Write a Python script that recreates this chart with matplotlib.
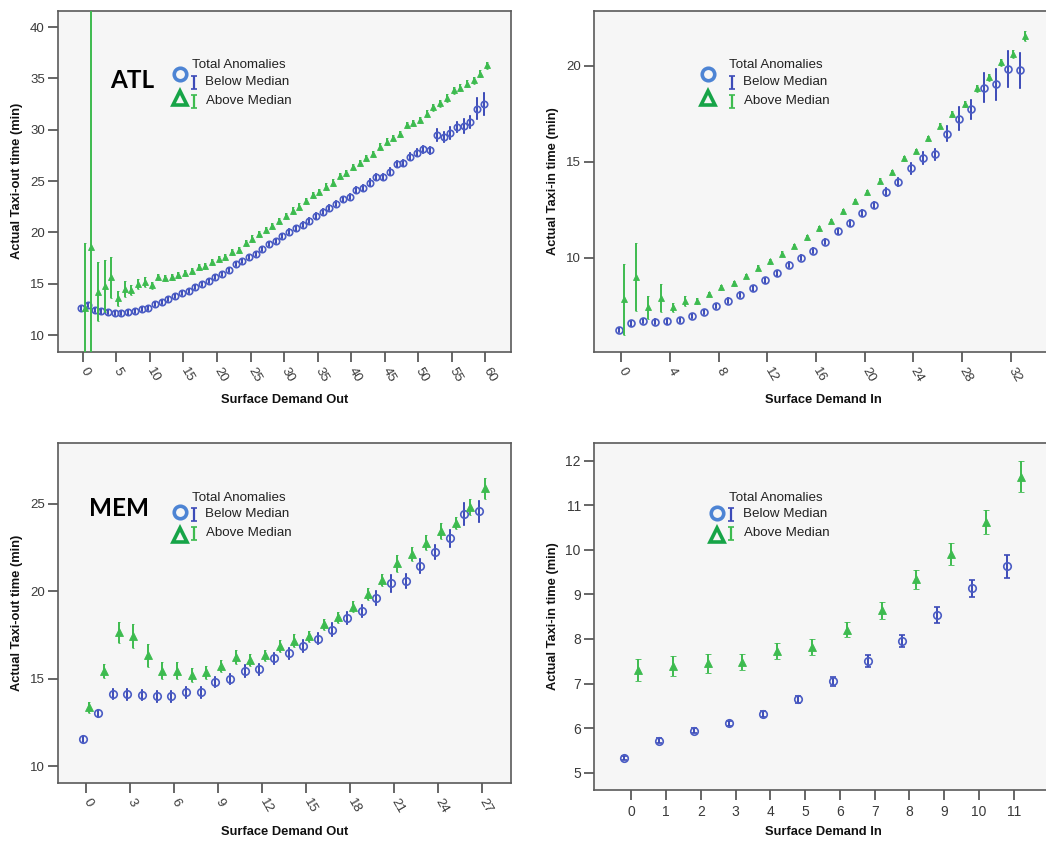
import numpy as np
import matplotlib
matplotlib.use("Agg")
import matplotlib.pyplot as plt

# ---------------- data ----------------
# ATL taxi-out vs surface demand out
atl_out_x = list(range(0, 61))
atl_out_below = [12.64, 12.9, 12.44, 12.3, 12.25, 12.15, 12.15, 12.2, 12.35, 12.57,
                 12.67, 13.0, 13.2, 13.55, 13.8, 14.07, 14.33, 14.65, 14.95, 15.27,
                 15.63, 15.98, 16.34, 16.93, 17.2, 17.64, 17.9, 18.42, 18.84, 19.2,
                 19.62, 20.05, 20.4, 20.76, 21.12, 21.6, 22.03, 22.39, 22.8, 23.23,
                 23.46, 24.1, 24.33, 24.86, 25.37, 25.4, 25.93, 26.64, 26.74, 27.39,
                 27.75, 28.1, 28.0, 29.47, 29.27, 29.67, 30.25, 30.38, 30.77, 32.07,
                 32.52]
atl_out_below_err = [0.2] * 11 + [0.2] * 20 + [0.25] * 10 + [0.3] * 8 + [0.35] * 4 + \
                    [0.6, 0.5, 0.6, 0.5, 0.7, 0.6, 1.0, 1.1]
atl_out_above = [12.64, 18.58, 14.23, 14.78, 15.63, 13.58, 14.46, 14.4, 14.97, 15.17,
                 14.84, 15.63, 15.56, 15.63, 15.82, 16.08, 16.28, 16.6, 16.73, 17.12,
                 17.38, 17.58, 18.13, 18.29, 18.97, 19.4, 19.82, 20.2, 20.63, 21.15,
                 21.6, 22.13, 22.52, 23.1, 23.62, 23.91, 24.47, 24.86, 25.5, 25.8,
                 26.35, 26.74, 27.23, 27.65, 28.37, 28.85, 29.2, 29.6, 30.45, 30.64,
                 30.97, 31.55, 32.17, 32.56, 33.1, 33.86, 34.08, 34.48, 34.8, 35.45,
                 36.3]
atl_out_above_err = [6.3, 30.0, 2.85, 2.5, 2.0, 0.7, 0.8, 0.5, 0.5, 0.5,
                     0.35] + [0.3] * 40 + [0.35] * 10

# ATL taxi-in vs surface demand in
atl_in_x = list(range(0, 34))
atl_in_below = [6.23, 6.58, 6.7, 6.67, 6.68, 6.75, 6.96, 7.17, 7.48, 7.76,
                8.06, 8.4, 8.82, 9.2, 9.62, 10.0, 10.35, 10.83, 11.37, 11.82,
                12.34, 12.73, 13.42, 13.94, 14.65, 15.19, 15.38, 16.46, 17.24, 17.73,
                18.85, 19.03, 19.83, 19.76]
atl_in_below_err = [0.12] * 10 + [0.13] * 8 + [0.15] * 4 + [0.2, 0.22] + \
                   [0.3, 0.3, 0.3, 0.4, 0.6, 0.5, 0.75, 0.8, 0.95, 0.9]
atl_in_above = [7.83, 9.01, 7.41, 7.88, 7.41, 7.74, 7.76, 8.1, 8.45, 8.66,
                9.04, 9.48, 9.81, 10.21, 10.61, 11.06, 11.53, 11.91, 12.41, 12.93,
                13.4, 14.01, 14.44, 15.17, 15.56, 16.22, 16.88, 17.47, 18.02, 18.82,
                19.39, 20.17, 20.61, 21.53]
atl_in_above_err = [1.84, 1.78, 0.58, 0.73, 0.25, 0.25, 0.15] + [0.12] * 20 + \
                   [0.15, 0.15, 0.18, 0.2, 0.2, 0.22, 0.25]

# MEM taxi-out vs surface demand out
mem_out_x = list(range(0, 28))
mem_out_below = [11.55, 13.02, 14.12, 14.1, 14.08, 13.99, 13.99, 14.22, 14.22, 14.81,
                 14.98, 15.46, 15.53, 16.16, 16.45, 16.89, 17.29, 17.81, 18.49, 18.89,
                 19.64, 20.46, 20.57, 21.47, 22.23, 23.03, 24.41, 24.58]
mem_out_below_err = [0.15, 0.2, 0.3, 0.3, 0.3, 0.3, 0.3, 0.3, 0.3, 0.3,
                     0.3, 0.35, 0.3, 0.3, 0.3, 0.35, 0.3, 0.35, 0.35, 0.35,
                     0.4, 0.5, 0.4, 0.4, 0.4, 0.5, 0.64, 0.6]
mem_out_above = [13.36, 15.42, 17.65, 17.44, 16.35, 15.46, 15.46, 15.19, 15.36, 15.71,
                 16.24, 16.09, 16.34, 16.85, 17.18, 17.42, 18.11, 18.51, 19.12, 19.83,
                 20.65, 21.6, 22.12, 22.79, 23.44, 23.93, 24.81, 25.9]
mem_out_above_err = [0.3, 0.4, 0.6, 0.69, 0.66, 0.47, 0.48, 0.4, 0.35, 0.35,
                     0.42, 0.35, 0.3, 0.35, 0.35, 0.3, 0.3, 0.3, 0.3, 0.35,
                     0.35, 0.5, 0.4, 0.45, 0.45, 0.35, 0.45, 0.6]

# MEM taxi-in vs surface demand in
mem_in_x = list(range(0, 12))
mem_in_below = [5.33, 5.72, 5.94, 6.11, 6.32, 6.65, 7.05, 7.5, 7.96, 8.54, 9.14, 9.63]
mem_in_below_err = [0.05, 0.05, 0.06, 0.06, 0.07, 0.08, 0.1, 0.13, 0.13, 0.17, 0.19, 0.25]
mem_in_above = [7.3, 7.4, 7.45, 7.48, 7.72, 7.83, 8.21, 8.64, 9.34, 9.9, 10.63, 11.64]
mem_in_above_err = [0.24, 0.22, 0.21, 0.18, 0.18, 0.18, 0.17, 0.19, 0.22, 0.25, 0.27, 0.35]

# ---------------- style ----------------
W, H = 1046, 841
BLUE = "#4a5cc4"
BLUE_ERR = "#3c4bb8"
GREEN = "#3dbb4f"
LEG_BLUE = "#4d84d4"
LEG_GREEN = "#16a447"
FRAME = "#5a5a5a"
BG = "#f6f6f6"
FONT = "Liberation Sans"

plt.rcParams["font.family"] = [FONT, "DejaVu Sans"]

fig = plt.figure(figsize=(W / 100, H / 100), dpi=100)
fig.patch.set_facecolor("white")


def px_axes(l, t, r, b):
    return fig.add_axes([l / W, 1 - b / H, (r - l) / W, (b - t) / H])


panels = [
    dict(box=(58, 10.7, 511, 352), x=atl_out_x, below=atl_out_below, berr=atl_out_below_err,
         above=atl_out_above, aerr=atl_out_above_err, xlim=(-3.7, 63.8), ylim=(8.35, 41.6),
         xticks=list(range(0, 61, 5)), yticks=[10, 15, 20, 25, 30, 35, 40],
         xlabel="Surface Demand Out", ylabel="Actual Taxi-out time (min)", rot=True,
         xlab_y=400, ylab_x=17, ms=4.6, cap=0.8, off=0.25, tls=9.5),
    dict(box=(594, 10.7, 1052, 352), x=atl_in_x, below=atl_in_below, berr=atl_in_below_err,
         above=atl_in_above, aerr=atl_in_above_err, xlim=(-2.25, 35.4), ylim=(5.09, 22.86),
         xticks=list(range(0, 33, 4)), yticks=[10, 15, 20],
         xlabel="Surface Demand In", ylabel="Actual Taxi-in time (min)", rot=True,
         xlab_y=400, ylab_x=553, ms=5.0, cap=0.8, off=0.22, tls=9.5),
    dict(box=(58, 443, 511, 783), x=mem_out_x, below=mem_out_below, berr=mem_out_below_err,
         above=mem_out_above, aerr=mem_out_above_err, xlim=(-1.93, 28.98), ylim=(9.03, 28.49),
         xticks=list(range(0, 28, 3)), yticks=[10, 15, 20, 25],
         xlabel="Surface Demand Out", ylabel="Actual Taxi-out time (min)", rot=True,
         xlab_y=831.7, ylab_x=17, ms=5.4, cap=1.0, off=0.2, tls=9.5),
    dict(box=(594, 443, 1052, 790), x=mem_in_x, below=mem_in_below, berr=mem_in_below_err,
         above=mem_in_above, aerr=mem_in_above_err, xlim=(-1.07, 12.1), ylim=(4.61, 12.4),
         xticks=list(range(0, 12)), yticks=[5, 6, 7, 8, 9, 10, 11, 12],
         xlabel="Surface Demand In", ylabel="Actual Taxi-in time (min)", rot=False,
         xlab_y=831.7, ylab_x=553, ms=5.4, cap=2.2, off=0.2, tls=10),
]

for p in panels:
    l, t, r, b = p["box"]
    ax = px_axes(l, t, r, b)
    ax.set_facecolor(BG)
    x = np.array(p["x"], dtype=float)
    off = p["off"]
    ax.errorbar(x - off, p["below"], yerr=p["berr"], fmt="o", mfc="none", mec=BLUE,
                ms=p["ms"], mew=1.2, ecolor=BLUE_ERR, elinewidth=1.4,
                capsize=p["cap"], capthick=1.1, zorder=3)
    ax.errorbar(x + off, p["above"], yerr=p["aerr"], fmt="^", mfc=GREEN, mec=GREEN,
                ms=p["ms"], mew=0.6, ecolor=GREEN, elinewidth=1.4,
                capsize=p["cap"], capthick=1.1, zorder=4)
    ax.set_xlim(*p["xlim"])
    ax.set_ylim(*p["ylim"])
    ax.set_xticks(p["xticks"])
    ax.set_yticks(p["yticks"])
    for s in ax.spines.values():
        s.set_color(FRAME)
        s.set_linewidth(1.2)
    ax.tick_params(axis="both", direction="out", length=7, width=1.3, color=FRAME,
                   labelsize=p["tls"], labelcolor="#3a3a3a", pad=2.5)
    if p["rot"]:
        for lab in ax.get_xticklabels():
            lab.set_rotation(-60)
            lab.set_rotation_mode("anchor")
            lab.set_ha("left")
            lab.set_va("center")
        ax.tick_params(axis="x", pad=5)
    else:
        ax.tick_params(axis="x", pad=4)
    axw, axh = r - l, b - t
    ax.set_xlabel(p["xlabel"], fontsize=9.3, fontweight="bold", color="#111111")
    ax.xaxis.label.set_va("center")
    ax.xaxis.set_label_coords(0.5, (b - p["xlab_y"]) / axh)
    ax.set_ylabel(p["ylabel"], fontsize=9.3, fontweight="bold", color="#111111")
    ax.yaxis.label.set_va("center")
    ax.yaxis.set_label_coords((p["ylab_x"] - l) / axw, 0.5)

# ---------------- overlay for airport labels and legends ----------------
ov = fig.add_axes([0, 0, 1, 1])
ov.set_xlim(0, W)
ov.set_ylim(H, 0)
ov.axis("off")
ov.patch.set_alpha(0)

ov.text(110, 80.5, "ATL", fontsize=17.5, fontweight="bold", family=["Lato", "DejaVu Sans"],
        ha="left", va="center", color="black")
ov.text(89, 508, "MEM", fontsize=17.5, fontweight="bold", family=["Lato", "DejaVu Sans"],
        ha="left", va="center", color="black")

legends = [
    (180, 192, 194, 205, 65, 74, 82, 98, 101),
    (708.3, 729, 731.7, 742.7, 65, 74, 82, 98, 101),
    (180, 192, 194, 205, 497.7, 512.3, 514, 535, 533),
    (716.7, 729, 731, 742.7, 497.7, 512.7, 514, 535, 533),
]
for (mx, tx, ix, lx, ty, cy, by, gy, ay) in legends:
    ov.text(tx, ty, "Total Anomalies", fontsize=9.6, color="#222222", ha="left", va="center")
    ov.plot([mx], [cy], marker="o", ms=9, mfc="none", mec=LEG_BLUE, mew=2.6, ls="none")
    ov.plot([mx], [gy], marker="^", ms=10, mfc="none", mec=LEG_GREEN, mew=2.6, ls="none")
    ov.errorbar([ix], [by], yerr=[6.5], fmt="none", ecolor=BLUE_ERR, elinewidth=1.6,
                capsize=2.2, capthick=1.2)
    ov.errorbar([ix], [ay], yerr=[6.5], fmt="none", ecolor=GREEN, elinewidth=1.6,
                capsize=2.2, capthick=1.2)
    ov.text(lx, by, "Below Median", fontsize=9.6, color="#222222", ha="left", va="center")
    ov.text(lx + 0.8, ay, "Above Median", fontsize=9.6, color="#222222", ha="left", va="center")

fig.savefig("out.png", dpi=100, facecolor="white")
